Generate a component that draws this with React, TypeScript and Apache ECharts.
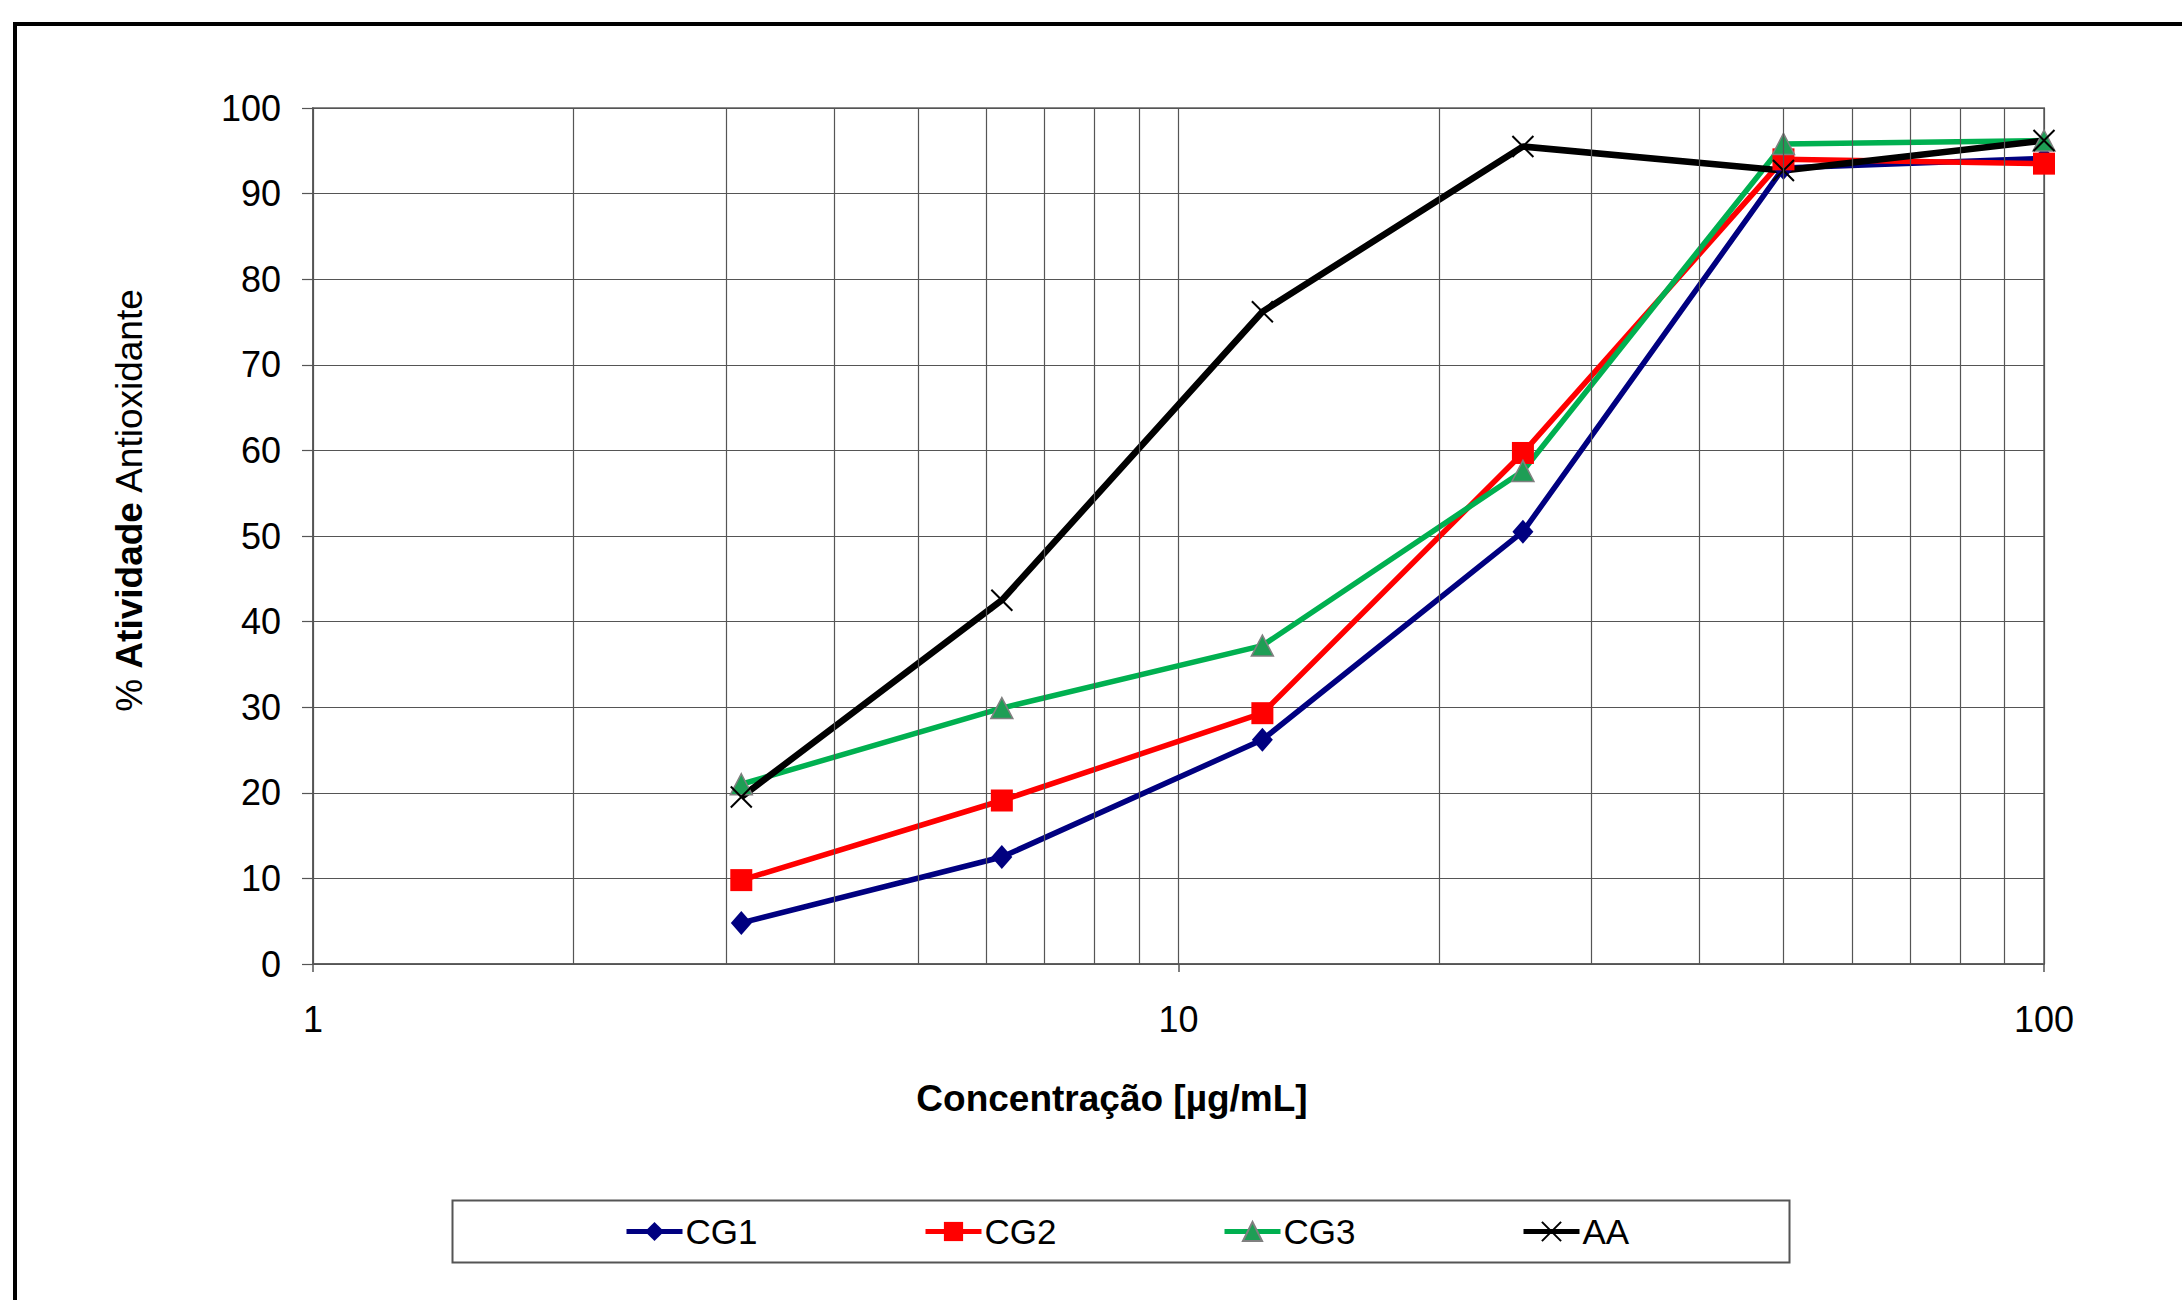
import React, { useEffect, useRef } from "react";
import * as echarts from "echarts";

const CONCENTRATIONS = [3.125, 6.25, 12.5, 25, 50, 100];
const CG1 = [4.8, 12.5, 26.2, 50.5, 93.0, 94.1];
const CG2 = [9.8, 19.1, 29.3, 59.7, 94.0, 93.5];
const CG3 = [21.0, 29.9, 37.2, 57.6, 95.8, 96.2];
const AA = [19.5, 42.5, 76.2, 95.5, 92.7, 96.2];
const SERIES_NAMES = ["CG1", "CG2", "CG3", "AA"];
const MINOR_X = [2, 3, 4, 5, 6, 7, 8, 9, 20, 30, 40, 50, 60, 70, 80, 90];
const X_TITLE = "Concentração [µg/mL]";

const FONT = "'Liberation Sans', Arial, sans-serif";

const pairs = (ys: number[]) => CONCENTRATIONS.map((x, i) => [x, ys[i]]);

export default function App() {
  const ref = useRef<HTMLDivElement>(null);
  useEffect(() => {
    if (!ref.current) return;
    const chart = echarts.init(ref.current, null, { renderer: "svg" });
    const gridColor = "#555";
    chart.setOption({
      animation: false,
      backgroundColor: "#fff",
      grid: {
        left: 313,
        top: 108,
        width: 1731,
        height: 856,
        show: true,
        borderColor: "#888",
        borderWidth: 2,
        backgroundColor: "transparent",
      },
      xAxis: {
        type: "log",
        logBase: 10,
        min: 1,
        max: 100,
        axisLine: { show: true, lineStyle: { color: gridColor, width: 1.5 } },
        axisTick: { show: true, length: 8, lineStyle: { color: gridColor, width: 1.5 } },
        axisLabel: { fontSize: 36, color: "#000", margin: 37, fontFamily: FONT },
        splitLine: { show: true, lineStyle: { color: gridColor, width: 1.2 } },
        minorTick: { show: false },
        minorSplitLine: { show: false },
      },
      yAxis: {
        type: "value",
        min: 0,
        max: 100,
        interval: 10,
        axisLine: { show: true, lineStyle: { color: gridColor, width: 1.5 } },
        axisTick: { show: true, length: 11, lineStyle: { color: gridColor, width: 1.2 } },
        axisLabel: { fontSize: 36, color: "#000", margin: 32, fontFamily: FONT },
        splitLine: { show: true, lineStyle: { color: gridColor, width: 1.2 } },
      },
      legend: SERIES_NAMES.map((name, i) => ({
        data: [name],
        left: 624 + i * 299,
        top: 1214,
        padding: 0,
        itemWidth: 56,
        itemHeight: 24,
        itemGap: 0,
        lineStyle: { width: 5 },
        textStyle: { fontSize: 35, fontFamily: FONT, color: "#000", padding: [0, 0, 0, -2] },
      })),
      graphic: [
        {
          type: "rect",
          z: -10,
          shape: { x: 15, y: 24, width: 2400, height: 1500 },
          style: { fill: "none", stroke: "#000", lineWidth: 4 },
        },
        {
          type: "rect",
          z: -5,
          shape: { x: 452.5, y: 1200.5, width: 1337, height: 62 },
          style: { fill: "#fff", stroke: "#555", lineWidth: 2 },
        },
        {
          type: "text",
          x: 1112,
          y: 1098,
          style: {
            text: X_TITLE,
            fontSize: 37,
            fontWeight: "bold",
            fontFamily: FONT,
            fill: "#000",
            align: "center",
            verticalAlign: "middle",
          },
        },
        {
          type: "text",
          x: 129,
          y: 500,
          rotation: Math.PI / 2,
          style: {
            text: "{r|% }{b|Atividade}{r| Antioxidante}",
            fontSize: 37,
            fontFamily: FONT,
            fill: "#000",
            align: "center",
            verticalAlign: "middle",
            rich: {
              r: { fontSize: 37, fontFamily: FONT, fill: "#000" },
              b: { fontSize: 37, fontFamily: FONT, fontWeight: "bold", fill: "#000" },
            },
          },
        },
      ],
      series: [
        {
          name: "minor",
          type: "line",
          data: [],
          silent: true,
          markLine: {
            silent: true,
            symbol: "none",
            label: { show: false },
            lineStyle: { color: gridColor, width: 1.2, type: "solid" },
            data: MINOR_X.map((v) => ({ xAxis: v })),
          },
        },
        {
          name: "CG1",
          type: "line",
          data: pairs(CG1),
          symbol: "diamond",
          symbolSize: [21, 24],
          lineStyle: { color: "#000080", width: 5.5 },
          itemStyle: { color: "#000080" },
        },
        {
          name: "CG2",
          type: "line",
          data: pairs(CG2),
          symbol: "rect",
          symbolSize: 22,
          lineStyle: { color: "#FF0000", width: 5.5 },
          itemStyle: { color: "#FF0000" },
        },
        {
          name: "CG3",
          type: "line",
          data: pairs(CG3),
          symbol: "triangle",
          symbolSize: [22, 21],
          lineStyle: { color: "#00B050", width: 5.5 },
          itemStyle: { color: "#1E9E55", borderColor: "#808080", borderWidth: 1.5 },
        },
        {
          name: "AA",
          type: "line",
          data: pairs(AA),
          symbol: "path://M0,0L10,10M10,0L0,10",
          symbolSize: 21,
          lineStyle: { color: "#000", width: 6.5 },
          itemStyle: { color: "none", borderColor: "#000", borderWidth: 2 },
        },
      ],
    });
    return () => chart.dispose();
  }, []);
  return (
    <div
      ref={ref}
      style={{ position: "fixed", left: 0, top: 0, width: 2182, height: 1300 }}
    />
  );
}
